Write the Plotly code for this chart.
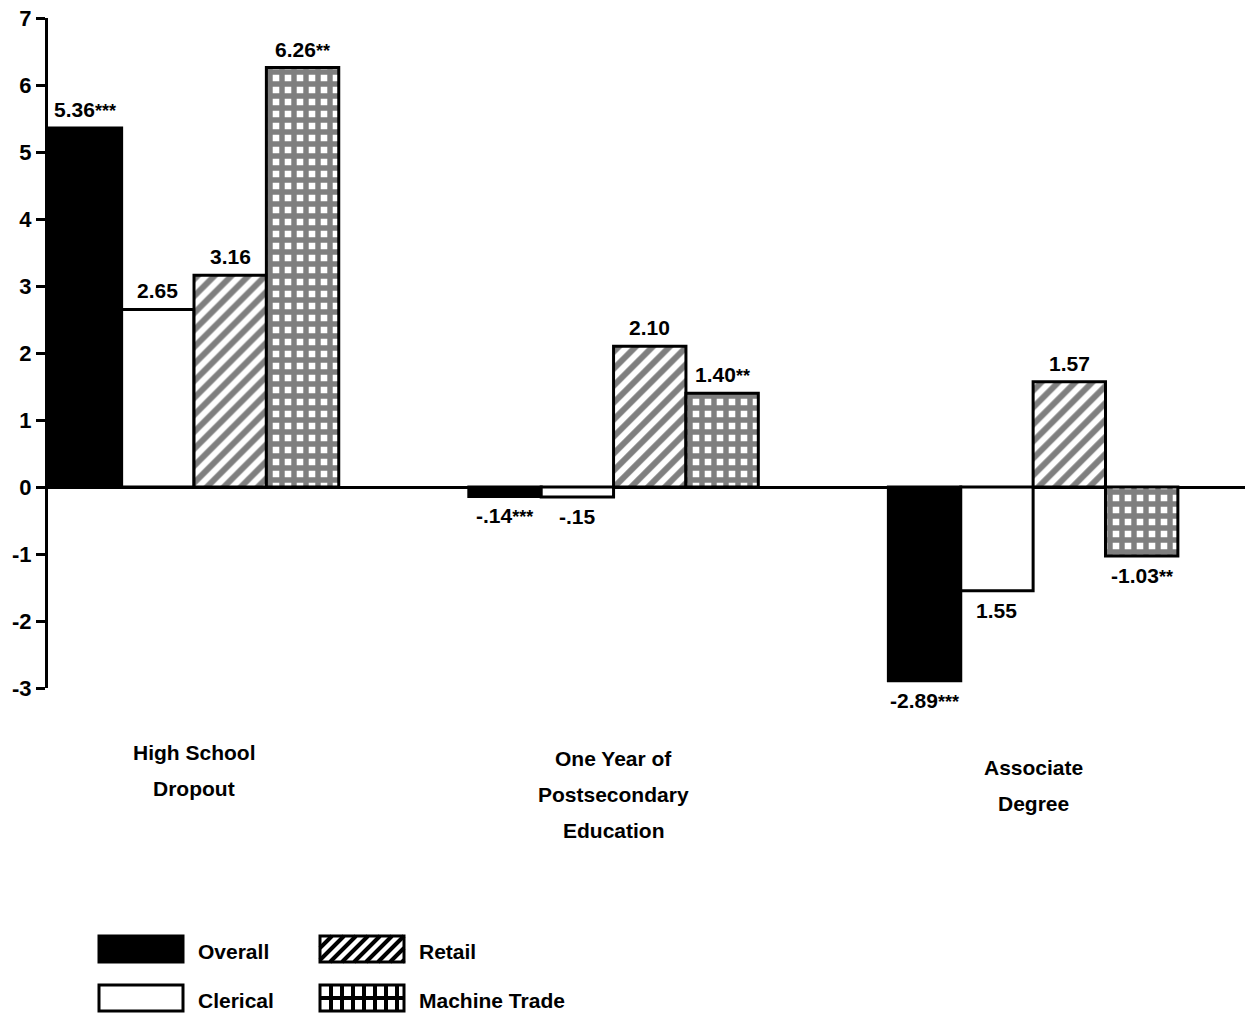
import plotly.graph_objects as go

# ---------------- data ----------------
categories = ["High School Dropout", "One Year of Postsecondary Education", "Associate Degree"]
category_lines = [["High School", "Dropout"],
                  ["One Year of", "Postsecondary", "Education"],
                  ["Associate", "Degree"]]
series_names = ["Overall", "Clerical", "Retail", "Machine Trade"]
overall = [5.36, -0.14, -2.89]
clerical = [2.65, -0.15, -1.55]
retail = [3.16, 2.10, 1.57]
machine_trade = [6.26, 1.40, -1.03]
overall_labels = ["5.36", "-.14", "-2.89"]
clerical_labels = ["2.65", "-.15", "1.55"]
retail_labels = ["3.16", "2.10", "1.57"]
machine_labels = ["6.26", "1.40", "-1.03"]
overall_stars = ["***", "***", "***"]
clerical_stars = ["", "", ""]
retail_stars = ["", "", ""]
machine_stars = ["**", "**", "**"]
y_ticks = [-3, -2, -1, 0, 1, 2, 3, 4, 5, 6, 7]
y_ticktext = ["-3", "-2", "-1", "0", "1", "2", "3", "4", "5", "6", "7"]

# ---------------- layout helpers ----------------
W, H = 1245, 1021
ML, MR, MT, MB = 48, 0, 18, 333
PW, PH = W - ML - MR, H - MT - MB
FONT = "Liberation Sans, Arial, sans-serif"
FS = 21
X_RANGE = [-0.348, 2.505]
BARGAP = 0.31
N_SERIES = 4
bar_px = PW / (X_RANGE[1] - X_RANGE[0]) * (1 - BARGAP) / N_SERIES


def px(xp):
    return (xp - ML) / PW


def py(yp):
    return (MT + PH - yp) / PH


def tfont(size=FS):
    return dict(family=FONT, size=size, color="black", weight="bold")


def label_text(num, stars):
    if not stars:
        return num
    return f'{num}<span style="font-size:18px">{stars}</span>'


line = dict(color="black", width=3)
styles = [
    dict(color="black", line=line),
    dict(color="white", line=line),
    dict(color="white", line=line,
         pattern=dict(shape="/", size=12, solidity=0.5, fgcolor="black", bgcolor="white")),
    dict(color="white", line=line,
         pattern=dict(shape="+", size=12, solidity=0.7, fgcolor="black", bgcolor="white")),
]
series_values = [overall, clerical, retail, machine_trade]
series_labels = [overall_labels, clerical_labels, retail_labels, machine_labels]
series_stars = [overall_stars, clerical_stars, retail_stars, machine_stars]

fig = go.Figure()
annotations = []
for si, (name, vals, labs, stars, mk) in enumerate(
        zip(series_names, series_values, series_labels, series_stars, styles)):
    fig.add_trace(go.Bar(name=name, x=categories, y=vals, marker=mk, showlegend=False,
                         cliponaxis=False))
    for cat, v, lab, st in zip(categories, vals, labs, stars):
        pos = v >= 0
        annotations.append(dict(x=cat, xref="x", y=v, yref="y", text=label_text(lab, st),
                                showarrow=False,
                                xshift=(si - (N_SERIES - 1) / 2) * bar_px,
                                yanchor="bottom" if pos else "top",
                                yshift=5 if pos else -6,
                                font=tfont()))

# category labels (one annotation per line)
label_tops = [752, 758, 767]
for cat, lines_, top in zip(categories, category_lines, label_tops):
    for i, txt in enumerate(lines_):
        annotations.append(dict(x=cat, xref="x", y=py(top + i * 36), yref="paper",
                                text=txt, showarrow=False, yanchor="middle",
                                font=tfont()))

# custom legend
shapes = []
sw = dict(w=84, h=26)
legend_items = [
    ("Overall", 99, 936, "solid"),
    ("Retail", 320, 936, "hatch"),
    ("Clerical", 99, 985, "empty"),
    ("Machine Trade", 320, 985, "grid"),
]
for name, x0, y0, kind in legend_items:
    x1, y1 = x0 + sw["w"], y0 + sw["h"]
    fill = "black" if kind == "solid" else "white"
    shapes.append(dict(type="rect", xref="paper", yref="paper",
                       x0=px(x0), x1=px(x1), y0=py(y1), y1=py(y0),
                       fillcolor=fill, line=dict(color="black", width=3)))
    segs = []
    if kind == "hatch":
        step = 12
        k = x0 - sw["h"]
        while k < x1:
            ax, ay, bx, by = k, y1, k + sw["h"], y0
            if ax < x0:
                ay = y1 - (x0 - ax)
                ax = x0
            if bx > x1:
                by = y0 + (bx - x1)
                bx = x1
            if bx > ax:
                segs.append(f"M{px(ax)},{py(ay)} L{px(bx)},{py(by)}")
            k += step
    elif kind == "grid":
        xx = x0 + 11
        while xx < x1 - 3:
            segs.append(f"M{px(xx)},{py(y0)} L{px(xx)},{py(y1)}")
            xx += 11
        ym = (y0 + y1) / 2
        segs.append(f"M{px(x0)},{py(ym)} L{px(x1)},{py(ym)}")
    if segs:
        shapes.append(dict(type="path", xref="paper", yref="paper", path=" ".join(segs),
                           line=dict(color="black", width=4)))
    annotations.append(dict(x=px(x1 + 13), xref="paper", y=py(y0 + sw["h"] / 2 + 2), yref="paper",
                            text=name, showarrow=False, xanchor="left", yanchor="middle",
                            font=tfont()))

fig.update_layout(
    width=W, height=H,
    margin=dict(l=ML, r=MR, t=MT, b=MB, autoexpand=False),
    paper_bgcolor="white", plot_bgcolor="white",
    barmode="group", bargap=BARGAP, bargroupgap=0,
    font=tfont(),
    xaxis=dict(range=X_RANGE, showticklabels=False, showgrid=False,
               showline=False, ticks="", zeroline=False),
    yaxis=dict(range=[-3, 7], tickvals=y_ticks, ticktext=y_ticktext,
               showgrid=False, showline=True, linecolor="black", linewidth=3,
               ticks="outside", ticklen=9, tickwidth=3, tickcolor="black",
               zeroline=True, zerolinecolor="black", zerolinewidth=3,
               tickfont=tfont(22)),
    annotations=annotations,
    shapes=shapes,
)

fig.write_html("out.html", config={"displayModeBar": False},
               post_script="document.body.style.margin='0';")
